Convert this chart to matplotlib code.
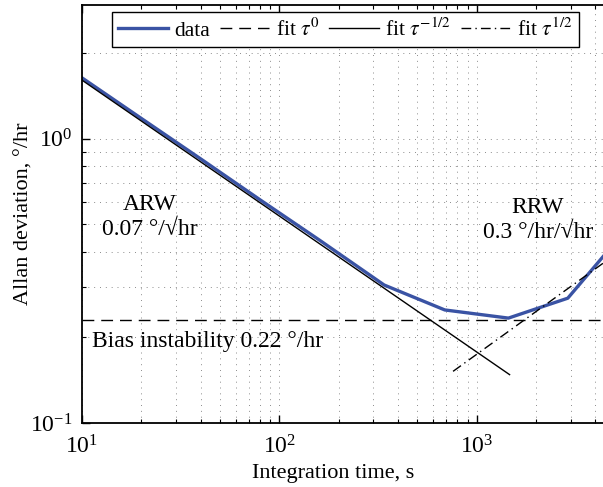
import numpy as np
import matplotlib
matplotlib.use('Agg')
import matplotlib.pyplot as plt

plt.rcParams['font.family'] = ['Liberation Serif', 'DejaVu Serif']
plt.rcParams['mathtext.fontset'] = 'stix'
plt.rcParams['font.size'] = 14

# Allan deviation data
tau = [10, 20, 40, 80, 160, 340, 690, 1450, 2900, 5150]
adev = [1.64, 1.18, 0.85, 0.61, 0.44, 0.306, 0.25, 0.234, 0.275, 0.44]

# fitted lines
arw_tau = [10, 1470]
arw_fit = [1.61, 0.148]
bias_tau = [10, 5150]
bias_fit = [0.23, 0.23]
rrw_tau = [760, 5150]
rrw_fit = [0.152, 0.396]

blue = '#3a53a4'

fig = plt.figure(figsize=(6.03, 4.87), dpi=100)
ax = fig.add_axes([82/603, 1-423/487, 535/603, 418/487])

ax.loglog(tau, adev, color=blue, lw=2.4, label='data')
ax.loglog(bias_tau, bias_fit, 'k', ls=(0, (8.5, 5)), lw=1.0, label=r'fit $\tau^{0}$')
ax.loglog(arw_tau, arw_fit, 'k-', lw=1.0, label=r'fit $\tau^{-1/2}$')
ax.loglog(rrw_tau, rrw_fit, 'k', ls=(0, (7, 3, 1, 3)), lw=1.0, label=r'fit $\tau^{1/2}$')

ax.set_xlim(10, 5150)
ax.set_ylim(0.1, 2.96)

ax.grid(True, which='both', ls=(0, (1, 5)), color='#8c8c8c', lw=0.7)
ax.tick_params(which='both', direction='in', top=True, right=True)
ax.tick_params(which='major', length=6, width=1, labelsize=17)
ax.tick_params(axis='x', which='major', pad=9)
ax.tick_params(axis='y', which='major', pad=7)
ax.tick_params(which='minor', length=3, width=0.8)
for s in ax.spines.values():
    s.set_linewidth(1.3)

ax.set_xlabel('Integration time, s', fontsize=16)
ax.set_ylabel('Allan deviation, \u00b0/hr', fontsize=16)
ax.xaxis.set_label_coords((333-82)/535, -0.097)
ax.yaxis.set_label_coords(-0.09, 0.5)

ax.text(22.1, 0.53, 'ARW\n0.07 \u00b0/\u221ahr', ha='center', va='center',
        linespacing=1.25, fontsize=17)
ax.text(2050, 0.52, 'RRW\n0.3 \u00b0/hr/\u221ahr', ha='center', va='center',
        linespacing=1.25, fontsize=17)
ax.text(11.2, 0.185, 'Bias instability 0.22 \u00b0/hr', ha='left', va='baseline',
        fontsize=17)

leg = ax.legend(ncol=4, loc='upper left', bbox_to_anchor=(112/603, 1-12/487),
                bbox_transform=fig.transFigure, borderaxespad=0,
                handlelength=2.3, handletextpad=0.3, columnspacing=0.45,
                borderpad=0.3, fancybox=False, framealpha=1, fontsize=15.5)
leg.get_frame().set_edgecolor('black')
leg.get_frame().set_linewidth(1.0)

fig.savefig('out.png', dpi=100)
